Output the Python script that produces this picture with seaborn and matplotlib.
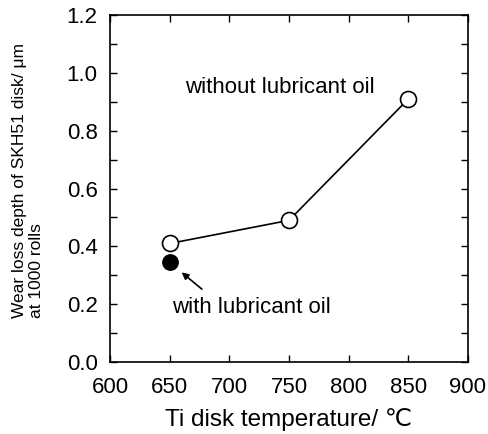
import matplotlib
matplotlib.use("Agg")
import matplotlib.pyplot as plt
import seaborn as sns
import pandas as pd
from matplotlib.ticker import MultipleLocator

temps_dry = [650, 750, 850]
wear_dry = [0.41, 0.49, 0.91]
temps_oil = [650]
wear_oil = [0.345]
xticks = [600, 650, 700, 750, 800, 850, 900]
yticks = [0.0, 0.2, 0.4, 0.6, 0.8, 1.0, 1.2]

sns.set_theme(style="ticks")
plt.rcParams['font.family'] = ['Liberation Sans', 'DejaVu Sans']
plt.rcParams['text.color'] = 'black'
plt.rcParams['axes.labelcolor'] = 'black'

fig = plt.figure(figsize=(4.89, 4.34), dpi=100)
ax = fig.add_axes([0.225, 0.166, 0.732, 0.799])

df_dry = pd.DataFrame({"T": temps_dry, "W": wear_dry})
df_oil = pd.DataFrame({"T": temps_oil, "W": wear_oil})

sns.lineplot(data=df_dry, x="T", y="W", ax=ax, color="black", lw=1.2,
             marker="o", markersize=11.5, markerfacecolor="white",
             markeredgecolor="black", markeredgewidth=1.2, zorder=3)
sns.scatterplot(data=df_oil, x="T", y="W", ax=ax, color="black", s=125,
                edgecolor="black", zorder=4)

ax.set_xlim(600, 900)
ax.set_ylim(0, 1.2)
ax.set_xticks(xticks)
ax.set_xticklabels([str(t) for t in xticks])
ax.set_yticks(yticks)
ax.set_yticklabels([f"{v:.1f}" for v in yticks])
ax.yaxis.set_minor_locator(MultipleLocator(0.1))
ax.tick_params(which="both", direction="in", top=True, right=True,
               length=5, width=1, colors="black", labelcolor="black",
               labelsize=16, pad=9)
ax.tick_params(axis="x", labeltop=False, pad=11)
for s in ax.spines.values():
    s.set_linewidth(1.2)
    s.set_color("black")

ax.set_xlabel("Ti disk temperature/ \u2103", fontsize=17.5, labelpad=7)
ax.set_ylabel("Wear loss depth of SKH51 disk/ \u03bcm\nat 1000 rolls",
              fontsize=12.5, linespacing=1.1, multialignment="left",
              ha="center", va="center")
ax.yaxis.set_label_coords(-0.229, 0.524)

ax.text(663, 0.95, "without lubricant oil", fontsize=16, va="center", ha="left")
ax.text(652, 0.187, "with lubricant oil", fontsize=16, va="center", ha="left")
ax.annotate("", xy=(660, 0.31), xytext=(677, 0.252),
            arrowprops=dict(arrowstyle="-|>", color="black", lw=1.2,
                            mutation_scale=10, shrinkA=0, shrinkB=0))

fig.savefig("out.png", dpi=100)
